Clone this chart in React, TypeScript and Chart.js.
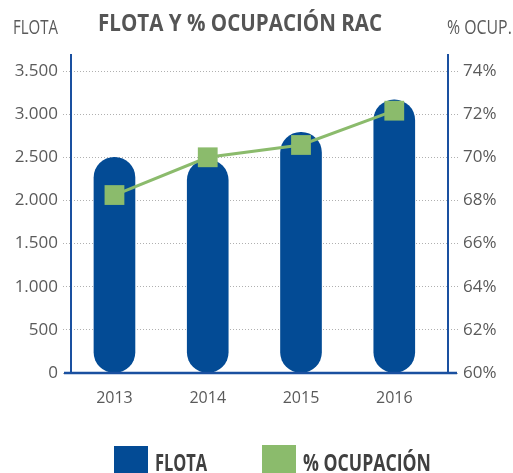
import React, { useEffect, useLayoutEffect, useRef, useState } from "react";
import { Chart, registerables } from "chart.js";

Chart.register(...registerables);

const years = ["2013", "2014", "2015", "2016"];
const flota = [2500, 2470, 2790, 3165];
const ocupacion = [68.25, 70.0, 70.57, 72.16];
const flotaTicks = [0, 500, 1000, 1500, 2000, 2500, 3000, 3500];
const ocupTicks = [60, 62, 64, 66, 68, 70, 72, 74];

const title = "FLOTA Y % OCUPACIÓN RAC";
const leftTitle = "FLOTA";
const rightTitle = "% OCUP.";
const legendFlota = "FLOTA";
const legendOcup = "% OCUPACIÓN";

const BLUE = "#034b95";
const AXIS_BLUE = "#1a50a0";
const GREEN = "#8bbb6c";
const TICK = "#5a5a5a";
const GRID = "#b0b0b0";

function fmtThousands(v: number): string {
  return String(v).replace(/\B(?=(\d{3})+(?!\d))/g, ".");
}

function Fit(props: { text: string; width: number; left: number; top: number; style: React.CSSProperties }) {
  const ref = useRef<HTMLSpanElement>(null);
  const [s, setS] = useState(1);
  useLayoutEffect(() => {
    if (ref.current) {
      const w = ref.current.offsetWidth;
      if (w > 0) setS(props.width / w);
    }
  }, [props.width, props.text]);
  return (
    <span
      ref={ref}
      style={{
        position: "absolute",
        left: props.left,
        top: props.top,
        display: "inline-block",
        whiteSpace: "nowrap",
        lineHeight: 1,
        transform: `scaleX(${s})`,
        transformOrigin: "left top",
        ...props.style,
      }}
    >
      {props.text}
    </span>
  );
}

const axisLines = {
  id: "axisLines",
  afterDatasetsDraw(chart: any) {
    const { ctx, chartArea: a } = chart;
    ctx.save();
    ctx.strokeStyle = AXIS_BLUE;
    ctx.lineWidth = 2;
    ctx.beginPath();
    ctx.moveTo(a.left, a.top - 17);
    ctx.lineTo(a.left, a.bottom);
    ctx.moveTo(a.right, a.top - 17);
    ctx.lineTo(a.right, a.bottom);
    ctx.stroke();
    ctx.lineWidth = 2.5;
    ctx.beginPath();
    ctx.moveTo(a.left - 7, a.bottom);
    ctx.lineTo(a.right + 9, a.bottom);
    ctx.stroke();
    ctx.restore();
  },
};

function ChartCanvas() {
  const ref = useRef<HTMLCanvasElement>(null);
  useEffect(() => {
    if (!ref.current) return;
    const xs = years.map((y) => Number(y));
    const chart = new Chart(ref.current, {
      type: "bar",
      data: {
        datasets: [
          {
            type: "line",
            label: legendOcup,
            data: xs.map((x, i) => ({ x, y: ocupacion[i] })),
            yAxisID: "y1",
            borderColor: GREEN,
            borderWidth: 3,
            pointStyle: "rect",
            pointRadius: 14,
            pointBackgroundColor: GREEN,
            pointBorderWidth: 0,
            order: 1,
          } as any,
          {
            type: "bar",
            label: legendFlota,
            data: xs.map((x, i) => ({ x, y: flota[i] })),
            yAxisID: "y",
            backgroundColor: BLUE,
            barThickness: 41,
            borderRadius: 21,
            borderSkipped: false,
            order: 2,
          } as any,
        ],
      },
      options: {
        responsive: false,
        animation: false,
        devicePixelRatio: 1,
        layout: { padding: { top: 71, left: 0, right: 0, bottom: 0 } },
        plugins: { legend: { display: false }, tooltip: { enabled: false } },
        scales: {
          x: {
            type: "linear",
            offset: false,
            min: 2012.534,
            max: 2016.576,
            afterBuildTicks: (s: any) => {
              s.ticks = xs.map((v) => ({ value: v }));
            },
            afterFit: (s: any) => {
              s.height = 100;
            },
            grid: { display: false },
            border: { display: false },
            ticks: {
              callback: (v: any) => String(v),
              font: { family: "Open Sans", size: 16 },
              color: TICK,
              padding: 8,
            },
          },
          y: {
            position: "left",
            min: 0,
            max: 3500,
            afterBuildTicks: (s: any) => {
              s.ticks = flotaTicks.map((v) => ({ value: v }));
            },
            afterFit: (s: any) => {
              s.width = 71;
            },
            grid: {
              color: GRID,
              lineWidth: 1,
              tickLength: 8,
              tickBorderDash: [1, 2],
              tickColor: GRID,
            },
            border: { display: false, dash: [1, 2] },
            ticks: {
              callback: (v: any) => fmtThousands(Number(v)),
              font: { family: "Open Sans", size: 17 },
              color: TICK,
              padding: 5,
            },
          },
          y1: {
            position: "right",
            min: 60,
            max: 74,
            afterBuildTicks: (s: any) => {
              s.ticks = ocupTicks.map((v) => ({ value: v }));
            },
            afterFit: (s: any) => {
              s.width = 65;
            },
            grid: {
              drawOnChartArea: false,
              color: GRID,
              lineWidth: 1,
              tickLength: 12,
              tickBorderDash: [1, 2],
              tickColor: GRID,
            },
            border: { display: false, dash: [1, 2] },
            ticks: {
              callback: (v: any) => v + "%",
              font: { family: "Open Sans", size: 17 },
              color: TICK,
              padding: 3,
            },
          },
        },
      } as any,
      plugins: [axisLines],
    });
    return () => chart.destroy();
  }, []);
  return <canvas ref={ref} width={513} height={473} style={{ position: "absolute", left: 0, top: 0 }} />;
}

export default function App() {
  return (
    <div
      style={{
        position: "fixed",
        left: 0,
        top: 0,
        width: 513,
        height: 473,
        background: "#ffffff",
        overflow: "hidden",
        fontFamily: "'Open Sans', sans-serif",
      }}
    >
      <ChartCanvas />
      <Fit text={title} width={284} left={98} top={11} style={{ fontSize: 23.4, fontWeight: 700, color: "#555555" }} />
      <Fit text={leftTitle} width={45} left={13} top={17.2} style={{ fontSize: 20, color: TICK }} />
      <Fit text={rightTitle} width={65} left={446.5} top={17.2} style={{ fontSize: 20, color: TICK }} />
      <div style={{ position: "absolute", left: 114, top: 446, width: 34, height: 27, background: BLUE }} />
      <Fit text={legendFlota} width={52} left={155} top={450} style={{ fontSize: 24, fontWeight: 700, color: "#404040" }} />
      <div style={{ position: "absolute", left: 262, top: 445, width: 34, height: 28, background: GREEN }} />
      <Fit text={legendOcup} width={128} left={303} top={450} style={{ fontSize: 24, fontWeight: 700, color: "#404040" }} />
    </div>
  );
}
